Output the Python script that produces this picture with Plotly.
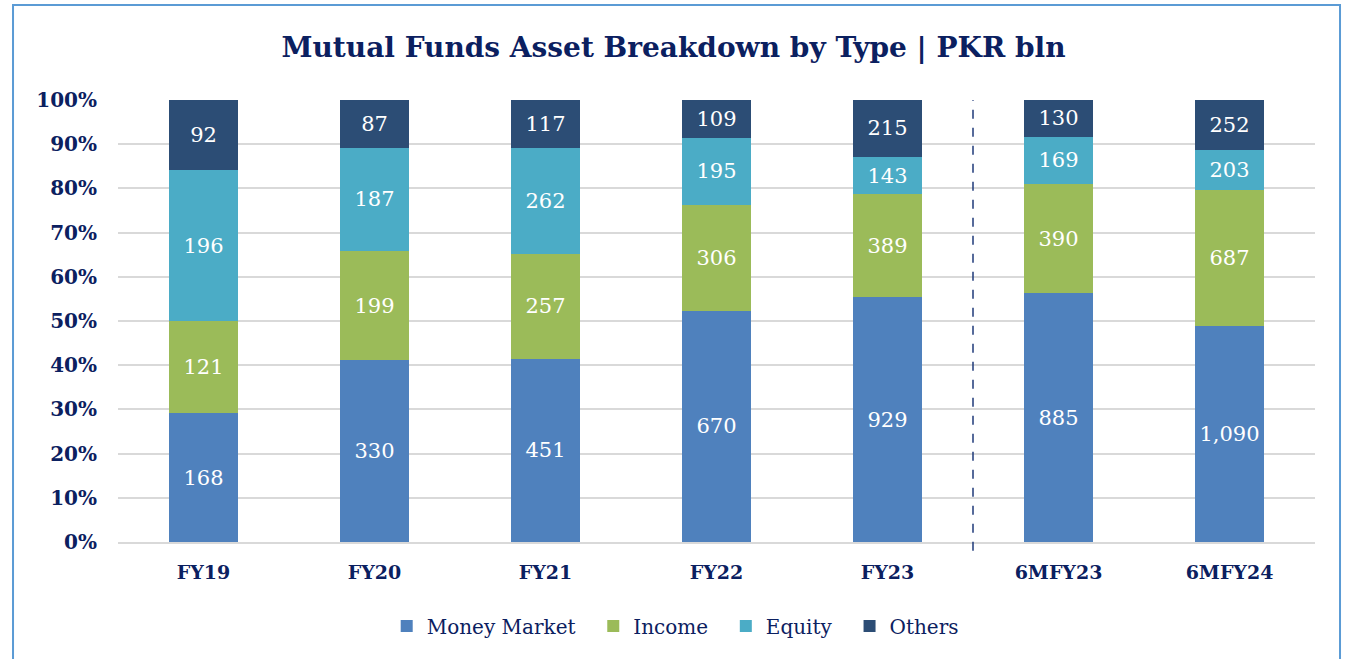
import plotly.graph_objects as go

categories = ["FY19", "FY20", "FY21", "FY22", "FY23", "6MFY23", "6MFY24"]
money_market = [168, 330, 451, 670, 929, 885, 1090]
income = [121, 199, 257, 306, 389, 390, 687]
equity = [196, 187, 262, 195, 143, 169, 203]
others = [92, 87, 117, 109, 215, 130, 252]

series = [
    ("Money Market", money_market, "#4F81BD"),
    ("Income", income, "#9BBB59"),
    ("Equity", equity, "#4BACC6"),
    ("Others", others, "#2C4D75"),
]

FONT = "DejaVu Serif"
NAVY = "#0B2060"
PAD = "\u00a0" * 2

fig = go.Figure()
for i, (name, vals, color) in enumerate(series):
    label = name + (PAD if i < len(series) - 1 else "")
    fig.add_trace(go.Bar(
        name=label, x=categories, y=vals,
        marker=dict(color=color, line=dict(width=0)),
        text=[f"{v:,}" for v in vals],
        textposition="inside", insidetextanchor="middle",
        textangle=0,
        textfont=dict(family=FONT, size=21, color="white"),
        hoverinfo="skip",
    ))

fig.update_layout(
    barmode="stack", barnorm="percent", bargap=0.6,
    width=1347, height=659,
    margin=dict(l=118, r=32, t=100, b=117),
    paper_bgcolor="white", plot_bgcolor="white",
    title=dict(text="<b>Mutual Funds Asset Breakdown by Type | PKR bln</b>",
               x=0.5, xanchor="center", y=0.9287, yanchor="middle",
               font=dict(family=FONT, size=28, color=NAVY)),
    legend=dict(orientation="h", x=0.4655, xanchor="center", y=-0.19, yanchor="middle",
                font=dict(family=FONT, size=20, color=NAVY), traceorder="normal",
                itemwidth=30),
    showlegend=True,
)
fig.update_yaxes(range=[0, 100], dtick=10, showgrid=True,
                 gridcolor="#D9D9D9", gridwidth=2, zeroline=False,
                 tickfont=dict(family=FONT, size=20, color=NAVY),
                 ticklabelstandoff=20, fixedrange=True,
                 tickprefix="<b>", ticksuffix="%</b>", showline=False)
fig.update_xaxes(tickfont=dict(family=FONT, size=19, color=NAVY),
                 tickprefix="<b>", ticksuffix="</b>", showline=True,
                 linecolor="#D9D9D9", linewidth=2, ticklabelstandoff=12)

# divider between fiscal years and half-year columns
fig.add_shape(type="line", xref="x", yref="paper", x0=4.5, x1=4.5, y0=-0.02, y1=1.0,
              line=dict(color="#1F3A7A", width=1.5, dash="dash"))
# outer chart border
fig.add_shape(type="rect", xref="paper", yref="paper",
              x0=-0.0877, x1=1.0209, y0=-0.30, y1=1.2149,
              line=dict(color="#5B9BD5", width=2), layer="below")

fig.write_html("out.html",
               config={"displayModeBar": False},
               post_script="document.body.style.margin='0px';"
                           "document.documentElement.style.margin='0px';")
